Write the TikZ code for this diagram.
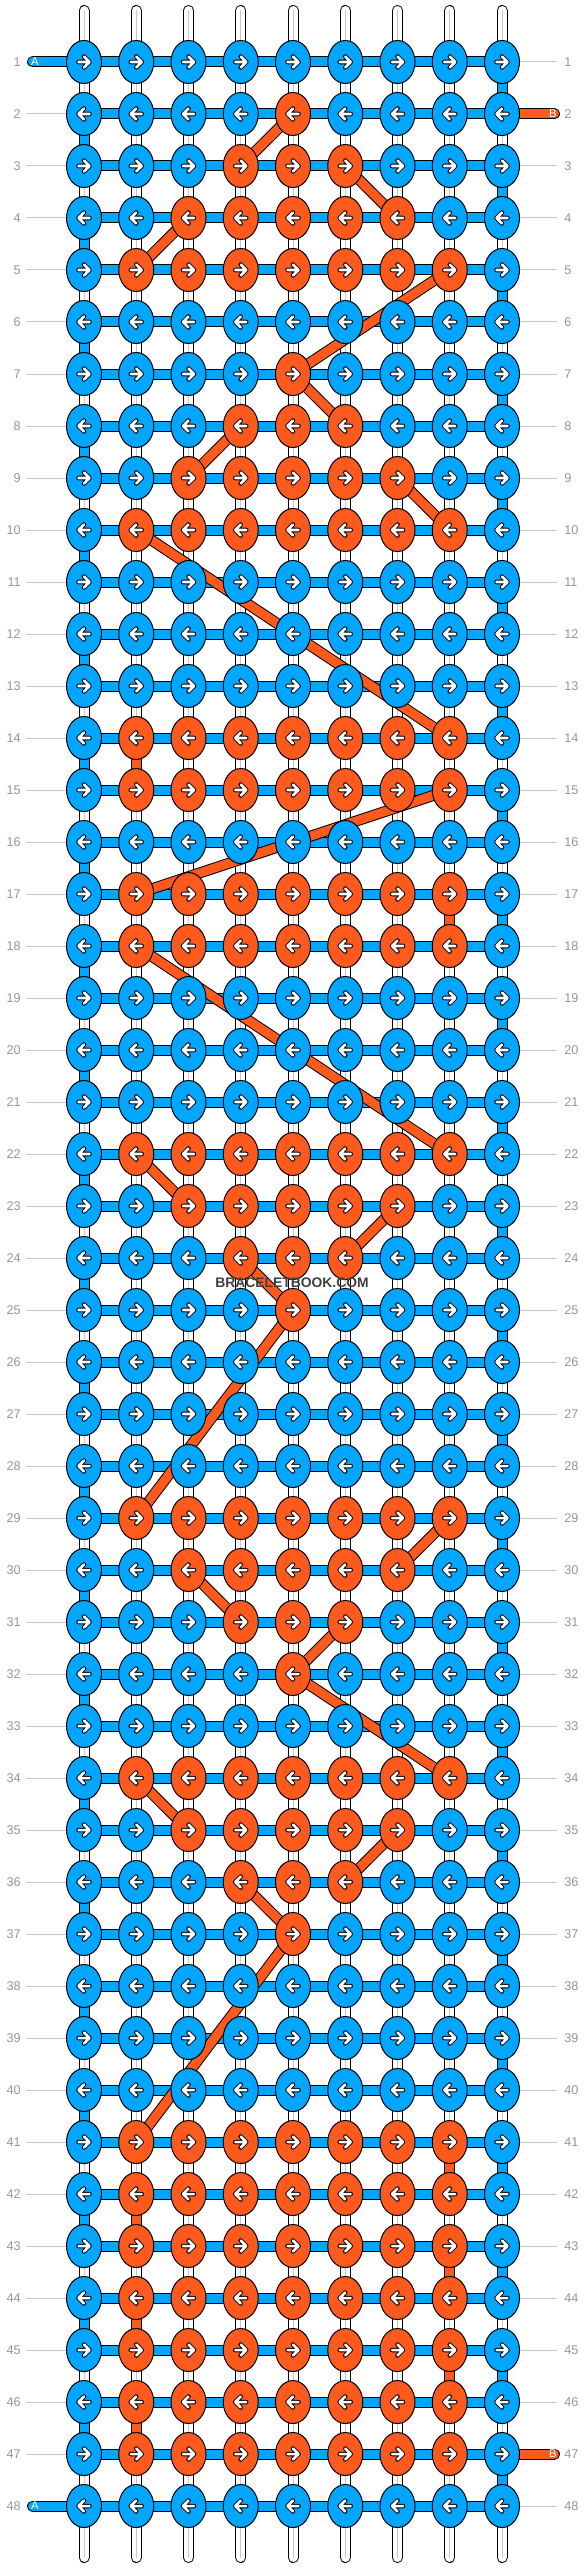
\documentclass[tikz,border=0pt]{standalone}
\usepackage{fontspec}
\setmainfont{Liberation Sans}
\usetikzlibrary{shapes.geometric}
\definecolor{threadA}{RGB}{0,166,255}
\definecolor{threadB}{RGB}{255,90,30}
\definecolor{lblgray}{RGB}{150,150,150}
\definecolor{linegray}{RGB}{200,200,200}

\begin{document}
\begin{tikzpicture}
[x=0.75pt,y=-0.75pt,
 knot/.style={ellipse,draw=black,line width=0.75pt,minimum width=26.25pt,minimum height=32.25pt,inner sep=0pt},
 bar/.style={line width=0.75pt,draw=black,double distance=6.75pt},
 barA/.style={bar,double=threadA},
 barB/.style={bar,double=threadB},
 base/.style={bar,double=white,line cap=round},
 karrow/.style={draw=black,line width=0.75pt,double=white,double distance=1.9pt,line cap=round,line join=round},
 rowlbl/.style={text=lblgray,font=\fontsize{9.5}{10}\selectfont,inner sep=0pt},
 rowline/.style={draw=linegray,line width=0.75pt},
 endlbl/.style={text=white,font=\fontsize{8.5}{9}\selectfont,inner sep=0pt},
]

%Grid spacing
\def\dx{52.25}
\def\dy{52}

\fill[white] (0,0) rectangle (584,2568);
\useasboundingbox (0,0) rectangle (584,2568);

%Knot positions
\foreach \r in {1,...,48}
  \foreach \c in {1,...,9}
    \coordinate (p-\r-\c) at ({84+(\c-1)*\dx},{62+(\r-1)*\dy});

%Row numbers and guide lines
\foreach \r in {1,...,48}{
  \node[rowlbl,anchor=east] (ll-\r) at (21,{62+(\r-1)*\dy}) {\r};
  \node[rowlbl,anchor=west] (lr-\r) at (564,{62+(\r-1)*\dy}) {\r};
  \ifnum\r=1 \else\ifnum\r=48 \else
    \draw[rowline,shorten <=3.75pt] (ll-\r.east) -- (p-\r-1);
  \fi\fi
  \ifnum\r=2 \else\ifnum\r=47 \else
    \draw[rowline,shorten >=5.25pt] (p-\r-9) -- (lr-\r.west);
  \fi\fi
}

%Base strings
\foreach \c in {1,...,9}{
  \coordinate (t-\c) at ({84+(\c-1)*\dx},10.5);
  \coordinate (b-\c) at ({84+(\c-1)*\dx},2557.5);
  \draw[base] (t-\c) -- (b-\c);
  \draw[draw=black!22,line width=0.75pt] (t-\c) -- (b-\c);
}

%Working string A
\foreach \r in {1,...,48}
  \draw[barA] (p-\r-1) -- (p-\r-9);
\foreach \r in {1,...,47}{
  \pgfmathtruncatemacro\rn{\r+1}
  \ifodd\r \def\ec{9}\else\def\ec{1}\fi
  \draw[barA] (p-\r-\ec) -- (p-\rn-\ec);
}
\coordinate (sa-1) at (32.5,62);
\coordinate (sa-48) at (32.5,2506);
\draw[barA,line cap=round] (sa-1) -- (p-1-1);
\draw[barA,line cap=round] (sa-48) -- (p-48-1);

%Working string B
\coordinate (sb-2) at (554.5,114);
\coordinate (sb-47) at (554.5,2454);
\draw[barB,line cap=round] (p-2-9) -- (sb-2);
\draw[barB,line cap=round] (p-47-9) -- (sb-47);
\foreach \ra/\ca/\rb/\cb in {2/5/3/4,3/6/4/7,4/3/5/2,5/8/7/5,7/5/8/6,8/4/9/3,9/7/10/8,
  10/2/14/8,14/2/15/2,15/8/17/2,17/8/18/8,18/2/22/8,22/2/23/3,23/7/24/6,24/4/25/5,
  25/5/29/2,29/8/30/7,30/3/31/4,31/6/32/5,32/5/34/8,34/2/35/3,35/7/36/6,36/4/37/5,
  37/5/41/2,41/8/42/8,42/2/43/2,43/8/44/8,44/2/45/2,45/8/46/8,46/2/47/2}
  \draw[barB] (p-\ra-\ca) -- (p-\rb-\cb);

%Knots
\foreach \r/\lo/\hi in {1/0/0,2/5/5,3/4/6,4/3/7,5/2/8,6/0/0,7/5/5,8/4/6,9/3/7,10/2/8,
  11/0/0,12/0/0,13/0/0,14/2/8,15/2/8,16/0/0,17/2/8,18/2/8,19/0/0,20/0/0,21/0/0,22/2/8,
  23/3/7,24/4/6,25/5/5,26/0/0,27/0/0,28/0/0,29/2/8,30/3/7,31/4/6,32/5/5,33/0/0,34/2/8,
  35/3/7,36/4/6,37/5/5,38/0/0,39/0/0,40/0/0,41/2/8,42/2/8,43/2/8,44/2/8,45/2/8,46/2/8,
  47/2/8,48/0/0}{
  \ifodd\r \def\ds{1}\else\def\ds{-1}\fi
  \foreach \c in {1,...,9}{
    \def\kc{threadA}
    \ifnum\c<\lo\else\ifnum\c>\hi\else\def\kc{threadB}\fi\fi
    \node[knot,fill=\kc] (k-\r-\c) at (p-\r-\c) {};
    \draw[karrow,shift={(k-\r-\c.center)}] (-5.5*\ds,0) -- (5.5*\ds,0) (0,-5.5) -- (5.5*\ds,0) -- (0,5.5);
  }
}

%String ends
\node[endlbl] (ta-1) at (35,62) {A};
\node[endlbl] (ta-48) at (35,2506) {A};
\node[endlbl] (tb-2) at (553,114) {B};
\node[endlbl] (tb-47) at (553,2454) {B};

\node[text=black!75,font=\bfseries\fontsize{10.4}{11}\selectfont] (wm) at (292,1283) {BRACELETBOOK.COM};
\end{tikzpicture}
\end{document}
